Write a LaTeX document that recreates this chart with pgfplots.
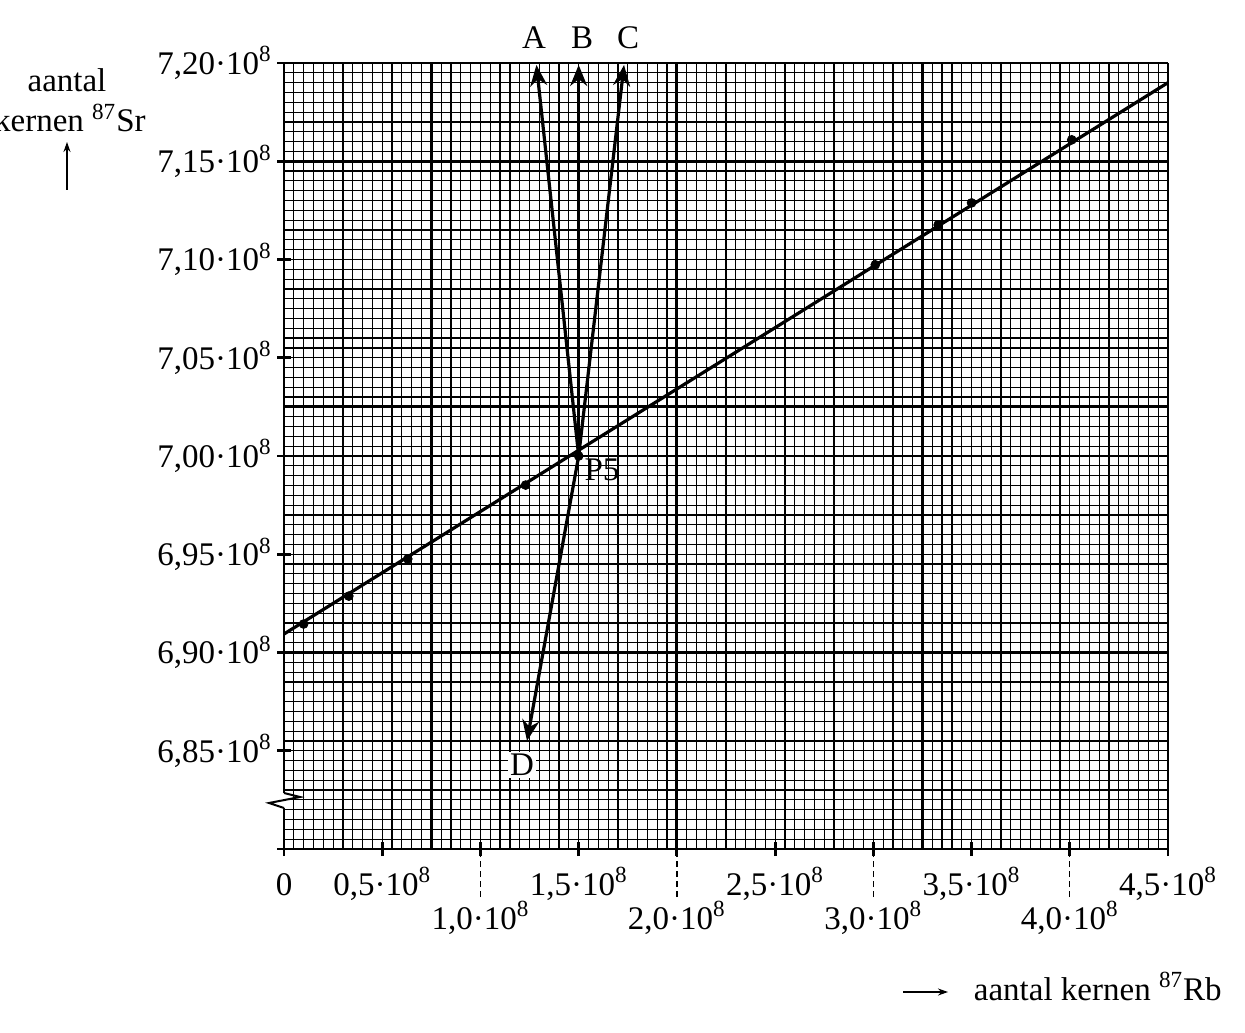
\documentclass[border=0pt]{standalone}
\usepackage{fontspec}
\setmainfont{Liberation Serif}
\usepackage{pgfplots}
\pgfplotsset{compat=1.18}
\usetikzlibrary{arrows.meta}
\newcommand{\lbl}[1]{#1·10\textsuperscript{8}}

\begin{document}
\fontsize{16.5}{20}\selectfont
\begin{tikzpicture}
\path[use as bounding box] (-142pt,-91.5pt) rectangle (480.5pt,424.5pt);
\begin{axis}[
  at={(0,0)}, anchor=south west,
  scale only axis, width=442pt, height=393pt,
  xmin=0, xmax=4.5, ymin=6.8, ymax=7.2,
  axis lines=left,
  axis line style={-, line width=1.4pt},
  x axis line style={shorten <=-3.5pt},
  xtick={0,0.5,1,1.5,2,2.5,3,3.5,4,4.5},
  xticklabels={{0\vphantom{\textsuperscript{8}}},{\lbl{0,5}},{},{\lbl{1,5}},{},{\lbl{2,5}},{},{\lbl{3,5}},{},{\lbl{4,5}}},
  ytick={6.8,6.85,6.9,6.95,7,7.05,7.1,7.15,7.2},
  yticklabels={{},{\lbl{6,85}},{\lbl{6,90}},{\lbl{6,95}},{\lbl{7,00}},{\lbl{7,05}},{\lbl{7,10}},{\lbl{7,15}},{\lbl{7,20}}},
  yticklabel style={xshift=3pt},
  minor x tick num=9,
  minor y tick num=9,
  grid=both,
  major grid style={black, line width=0.6pt},
  minor grid style={black, line width=0.6pt},
  tick align=center, major tick length=7pt, minor tick length=0pt,
  tick style={black, line width=1.4pt},
  extra x ticks={1,2,3,4},
  extra x tick labels={{\lbl{1,0}},{\lbl{2,0}},{\lbl{3,0}},{\lbl{4,0}}},
  extra x tick style={grid=none, tick align=outside, major tick length=24pt,
    tick style={dash pattern=on 3pt off 2pt, line width=0.7pt},
    xticklabel style={yshift=3.5pt}},
  clip=false,
]
% thick lines of the graph paper
\draw[line width=1.4pt] (axis cs:0.75,6.8) -- (axis cs:0.75,7.2);
\draw[line width=1.4pt] (axis cs:2,6.8) -- (axis cs:2,7.2);
\draw[line width=1.4pt] (axis cs:3.25,6.8) -- (axis cs:3.25,7.2);
\draw[line width=1.4pt] (axis cs:0,6.9) -- (axis cs:4.5,6.9);
\draw[line width=1.4pt] (axis cs:0,7.025) -- (axis cs:4.5,7.025);
\draw[line width=1.4pt] (axis cs:0,7.15) -- (axis cs:4.5,7.15);

\addplot[line width=1.6pt] coordinates {(0,6.9094) (4.5,7.19)};
\addplot[only marks, mark=*, mark size=2.2pt] coordinates {
  (0.10,6.9145) (0.33,6.9287) (0.63,6.9476) (1.23,6.9852) (1.5,7.0)
  (3.01,7.0973) (3.33,7.1176) (3.50,7.1288) (4.01,7.1609)};

\addplot[line width=1.6pt, -{Stealth[length=10.5pt,width=8.5pt]}] coordinates {(1.5,7.0) (1.285,7.199)};
\addplot[line width=1.6pt, -{Stealth[length=10.5pt,width=8.5pt]}] coordinates {(1.5,7.0) (1.5,7.199)};
\addplot[line width=1.6pt, -{Stealth[length=10.5pt,width=8.5pt]}] coordinates {(1.5,7.0) (1.731,7.199)};
\addplot[line width=1.6pt, -{Stealth[length=10.5pt,width=8.5pt]}] coordinates {(1.5,7.0) (1.237,6.855)};

\node at (axis cs:1.273,7.2128) {A};
\node at (axis cs:1.517,7.2128) {B};
\node at (axis cs:1.752,7.2128) {C};
\node[fill=white, inner sep=1pt] at (axis cs:1.212,6.8427) {D};
\node at (axis cs:1.619,6.9929) {P5};
\end{axis}
% break in the vertical axis
\draw[white, line width=2.5pt] (0,20.5pt) -- (0,28pt);
\draw[line width=1pt] (0,28pt) -- (8pt,26pt) -- (-7.5pt,23pt) -- (0,20.5pt);
% axis labels
\node[anchor=base] at (-108.5pt,378.5pt) {aantal};
\node[anchor=base east, inner sep=0pt] at (-69pt,358.5pt) {kernen \textsuperscript{87}Sr};
\draw[line width=0.6pt, -{Stealth[length=5pt,width=3.5pt]}] (-108.5pt,329.5pt) -- (-108.5pt,353.5pt);
\node[anchor=base east, inner sep=0pt] at (469pt,-75.5pt) {aantal kernen \textsuperscript{87}Rb};
\draw[line width=0.6pt, -{Stealth[length=5pt,width=3.5pt]}] (309.5pt,-71.5pt) -- (332pt,-71.5pt);
\end{tikzpicture}
\end{document}
